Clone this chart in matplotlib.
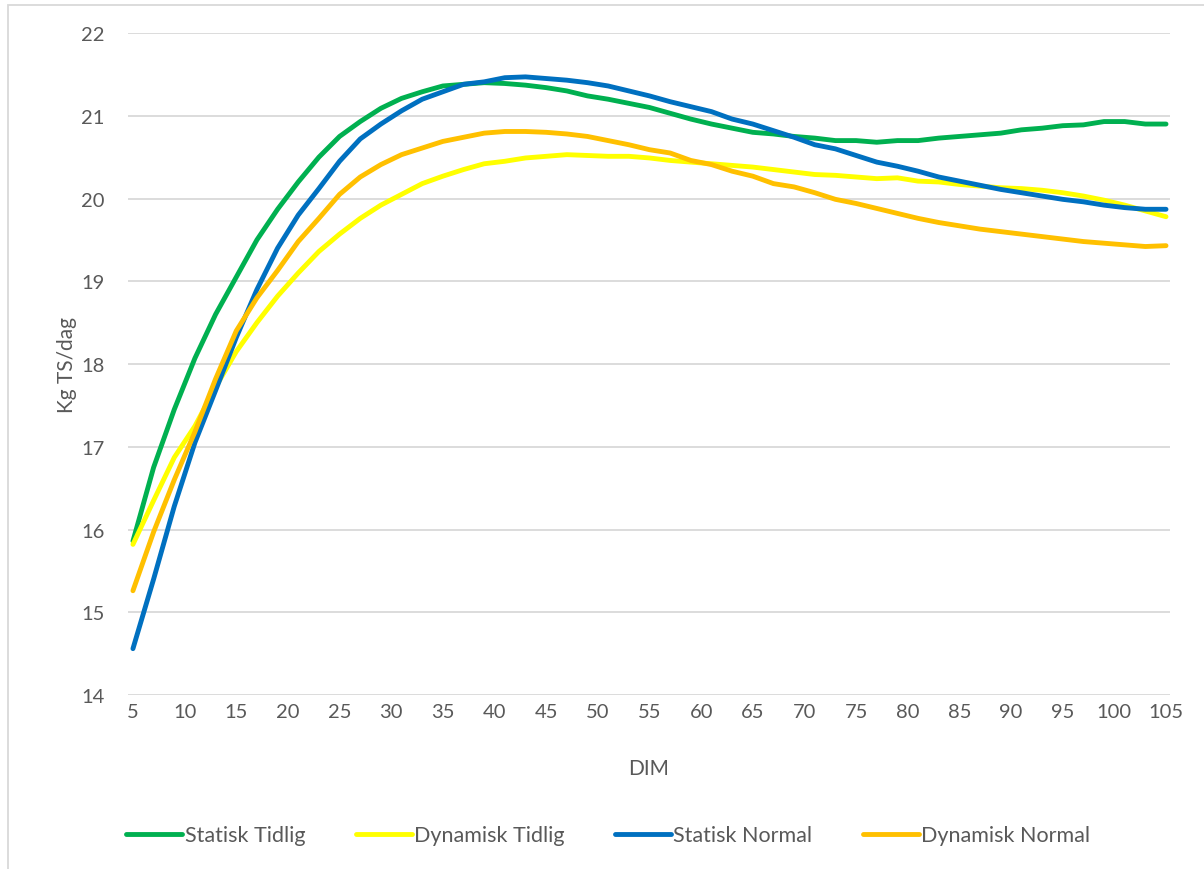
import matplotlib.pyplot as plt
from matplotlib.patches import Rectangle

# DIM (days in milk), every second day
dim = list(range(5, 106, 2))

statisk_tidlig = [15.86, 16.75, 17.45, 18.07, 18.60, 19.05, 19.50, 19.87, 20.20, 20.50,
                  20.75, 20.93, 21.09, 21.21, 21.29, 21.36, 21.38, 21.40, 21.39, 21.37,
                  21.34, 21.30, 21.24, 21.20, 21.15, 21.10, 21.03, 20.96, 20.90, 20.85,
                  20.80, 20.78, 20.75, 20.73, 20.70, 20.70, 20.68, 20.70, 20.70, 20.73,
                  20.75, 20.77, 20.79, 20.83, 20.85, 20.88, 20.89, 20.93, 20.93, 20.90,
                  20.90]

dynamisk_tidlig = [15.82, 16.35, 16.87, 17.25, 17.72, 18.15, 18.50, 18.82, 19.10, 19.36,
                   19.57, 19.76, 19.92, 20.05, 20.18, 20.27, 20.35, 20.42, 20.45, 20.49,
                   20.51, 20.53, 20.52, 20.51, 20.51, 20.49, 20.46, 20.44, 20.42, 20.40,
                   20.38, 20.35, 20.32, 20.29, 20.28, 20.26, 20.24, 20.25, 20.21, 20.20,
                   20.17, 20.15, 20.13, 20.12, 20.10, 20.07, 20.03, 19.98, 19.92, 19.85,
                   19.78]

statisk_normal = [14.56, 15.40, 16.28, 17.05, 17.68, 18.32, 18.90, 19.40, 19.80, 20.12,
                  20.45, 20.72, 20.90, 21.06, 21.20, 21.29, 21.38, 21.41, 21.46, 21.47,
                  21.45, 21.43, 21.40, 21.36, 21.30, 21.24, 21.17, 21.11, 21.05, 20.96,
                  20.90, 20.82, 20.74, 20.65, 20.60, 20.52, 20.44, 20.39, 20.33, 20.26,
                  20.21, 20.16, 20.11, 20.07, 20.03, 19.99, 19.96, 19.92, 19.89, 19.87,
                  19.87]

dynamisk_normal = [15.26, 15.97, 16.60, 17.18, 17.82, 18.40, 18.80, 19.13, 19.48, 19.76,
                   20.05, 20.26, 20.41, 20.53, 20.61, 20.69, 20.74, 20.79, 20.81, 20.81,
                   20.80, 20.78, 20.75, 20.70, 20.65, 20.59, 20.55, 20.46, 20.41, 20.33,
                   20.27, 20.18, 20.14, 20.07, 19.99, 19.94, 19.88, 19.82, 19.76, 19.71,
                   19.67, 19.63, 19.60, 19.57, 19.54, 19.51, 19.48, 19.46, 19.44, 19.42,
                   19.43]

series = [("Statisk Tidlig", statisk_tidlig, "#00B050"),
          ("Dynamisk Tidlig", dynamisk_tidlig, "#FFFF00"),
          ("Statisk Normal", statisk_normal, "#0070C0"),
          ("Dynamisk Normal", dynamisk_normal, "#FFC000")]

xticks = list(range(5, 106, 5))
yticks = list(range(14, 23))

plt.rcParams['font.family'] = ['Lato', 'DejaVu Sans']
text_col = '#595959'

fig = plt.figure(figsize=(12.04, 8.70), dpi=100)
ax = fig.add_axes([0.1063, 0.2, 0.8655, 0.7609])

for name, vals, col in series:
    ax.plot(dim, vals, color=col, lw=3.5, label=name, solid_capstyle='round')

ax.set_xlim(4.52, 105.39)
ax.set_ylim(14, 22)
ax.set_xticks(xticks)
ax.set_yticks(yticks)
ax.grid(axis='y', color='#d9d9d9', lw=1.3)
ax.set_axisbelow(True)
for s in ax.spines.values():
    s.set_visible(False)
ax.tick_params(length=0, labelsize=14.5, colors=text_col)
ax.tick_params(axis='x', pad=6)
ax.tick_params(axis='y', pad=17)

ax.set_xlabel("DIM", fontsize=15, color=text_col, labelpad=27)
ax.set_ylabel("Kg TS/dag", fontsize=15, color=text_col, labelpad=3)

leg = fig.legend(loc='center', bbox_to_anchor=(0.505, 0.039), ncol=4, frameon=False,
                 fontsize=15.5, handlelength=2.6, handletextpad=0.1, columnspacing=2.35)
for t in leg.get_texts():
    t.set_color(text_col)

# chart border
fig.patches.append(Rectangle((8 / 1204, -0.01), 1.1, 1 - 6 / 870 + 0.01,
                             transform=fig.transFigure, fill=False,
                             edgecolor='#d9d9d9', lw=1.3))

fig.savefig("out.png", dpi=100)
